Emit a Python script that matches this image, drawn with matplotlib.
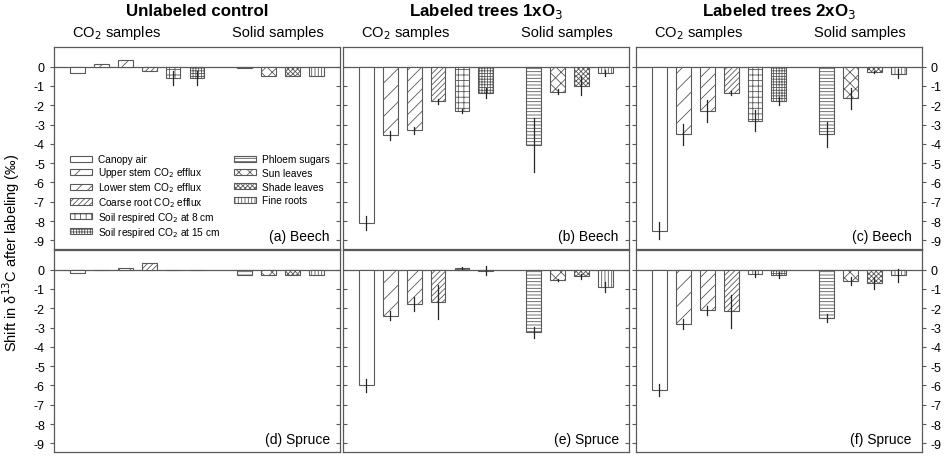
import numpy as np
import matplotlib.pyplot as plt
from matplotlib.patches import Patch
from matplotlib.transforms import blended_transform_factory

plt.rcParams['font.family'] = ['Liberation Sans', 'DejaVu Sans']
plt.rcParams['axes.unicode_minus'] = False
plt.rcParams['hatch.linewidth'] = 0.6

# Categories
co2_labels = ["Canopy air", "Upper stem CO$_2$ efflux", "Lower stem CO$_2$ efflux",
              "Coarse root CO$_2$ efflux", "Soil respired CO$_2$ at 8 cm",
              "Soil respired CO$_2$ at 15 cm"]
solid_labels = ["Phloem sugars", "Sun leaves", "Shade leaves", "Fine roots"]
co2_hatches = ['', '//', '///', '//////', '+++', '++++++']
solid_hatches = ['-----', 'xxx', 'xxxxxxx', '|||||']

col_titles = ["Unlabeled control", "Labeled trees 1xO$_3$", "Labeled trees 2xO$_3$"]
panel_tags = [["(a) Beech", "(b) Beech", "(c) Beech"],
              ["(d) Spruce", "(e) Spruce", "(f) Spruce"]]

# Shift in d13C (per mil), CO2 samples (6) then solid samples (4)
beech_ctrl = [-0.35, 0.15, 0.33, -0.22, -0.58, -0.58, -0.05, -0.5, -0.5, -0.5]
beech_ctrl_err = [0, 0, 0, 0, 0.37, 0.37, 0, 0, 0, 0]
beech_1x = [-8.1, -3.55, -3.3, -1.8, -2.3, -1.35, -4.05, -1.3, -1.0, -0.33]
beech_1x_err = [0.35, 0.23, 0.17, 0.12, 0.1, 0.26, 1.4, 0.13, 0.48, 0.15]
beech_2x = [-8.5, -3.5, -2.3, -1.35, -2.8, -1.8, -3.5, -1.65, -0.3, -0.38]
beech_2x_err = [0.45, 0.55, 0.57, 0.1, 0.54, 0.2, 0.64, 0.55, 0.05, 0.23]

spruce_ctrl = [-0.2, 0.0, 0.1, 0.32, 0.0, 0.0, -0.3, -0.3, -0.28, -0.3]
spruce_ctrl_err = [0, 0, 0, 0, 0, 0, 0, 0, 0, 0]
spruce_1x = [-6.0, -2.4, -1.8, -1.7, 0.08, -0.05, -3.25, -0.55, -0.35, -0.9]
spruce_1x_err = [0.32, 0.23, 0.36, 0.88, 0.05, 0.22, 0.3, 0.05, 0.12, 0.24]
spruce_2x = [-6.25, -2.8, -2.1, -2.15, -0.22, -0.3, -2.5, -0.6, -0.7, -0.3]
spruce_2x_err = [0.3, 0.26, 0.24, 0.86, 0.15, 0.15, 0.22, 0.22, 0.3, 0.32]

values = [[beech_ctrl, beech_1x, beech_2x], [spruce_ctrl, spruce_1x, spruce_2x]]
errors = [[beech_ctrl_err, beech_1x_err, beech_2x_err],
          [spruce_ctrl_err, spruce_1x_err, spruce_2x_err]]

xpos = [0, 1, 2, 3, 4, 5, 7, 8, 9, 10]
hatches = co2_hatches + solid_hatches
edge = '0.35'

fig = plt.figure(figsize=(9.44, 4.6), dpi=100)
lefts = [0.0572, 0.3633, 0.6737]
w = 0.3028
bottoms = [0.4565, 0.0152]
h = 0.4385

for r in range(2):
    for c in range(3):
        ax = fig.add_axes([lefts[c], bottoms[r], w, h])
        ax.bar(xpos, values[r][c], width=0.62, color='white', edgecolor=edge,
               linewidth=0.8, hatch=hatches, zorder=2)
        for x, v, e in zip(xpos, values[r][c], errors[r][c]):
            if e > 0:
                ax.plot([x, x], [v - e, v + e], color='0.15', lw=0.9, zorder=3)
        ax.axhline(0, color='0.35', lw=0.9, zorder=1)
        ax.set_xlim(-0.98, 10.98)
        ax.set_ylim(-9.45, 1.0)
        ax.set_xticks([])
        ax.set_yticks(np.arange(0, -10, -1))
        for s in ax.spines.values():
            s.set_color('0.35')
            s.set_linewidth(0.9)
        # outer sides: ticks out, inner sides: ticks in
        ax.tick_params(axis='y', left=True, right=True,
                       labelleft=(c == 0), labelright=(c == 2),
                       direction='in', length=3, color='0.35', labelsize=9)
        if c == 0:
            ax.tick_params(axis='y', direction='out')
            for t in ax.yaxis.get_major_ticks():
                t.tick2line.set_marker(0)
        if c == 2:
            ax.tick_params(axis='y', direction='out')
            for t in ax.yaxis.get_major_ticks():
                t.tick1line.set_marker(0)
        ax.text(0.965, 0.03, panel_tags[r][c], transform=ax.transAxes,
                ha='right', va='bottom', fontsize=10)
        if r == 0:
            tr = blended_transform_factory(ax.transData, fig.transFigure)
            ax.text(1.65, 0.928, "CO$_2$ samples", transform=tr, ha='center',
                    va='center', fontsize=10.5)
            ax.text(8.4, 0.928, "Solid samples", transform=tr, ha='center',
                    va='center', fontsize=10.5)
            fig.text(lefts[c] + w / 2, 0.975, col_titles[c], ha='center',
                     va='center', fontsize=12.2, fontweight='bold')
        if r == 0 and c == 0:
            h1 = [Patch(facecolor='white', edgecolor=edge, hatch=hh, lw=0.8)
                  for hh in co2_hatches]
            h2 = [Patch(facecolor='white', edgecolor=edge, hatch=hh, lw=0.8)
                  for hh in solid_hatches]
            kw = dict(loc='upper left', frameon=False, fontsize=7.3,
                      handlelength=2.2, handleheight=0.55,
                      handletextpad=0.55, borderpad=0, borderaxespad=0)
            leg1 = ax.legend(h1, co2_labels, bbox_to_anchor=(0.056, 0.47),
                             labelspacing=0.1, **kw)
            ax.add_artist(leg1)
            ax.legend(h2, solid_labels, bbox_to_anchor=(0.629, 0.47),
                      labelspacing=0.37, **kw)

fig.text(0.012, 0.45, "Shift in δ$^{13}$C after labeling (‰)", rotation=90,
         ha='center', va='center', fontsize=10.5)

fig.savefig("out.png", dpi=100)
